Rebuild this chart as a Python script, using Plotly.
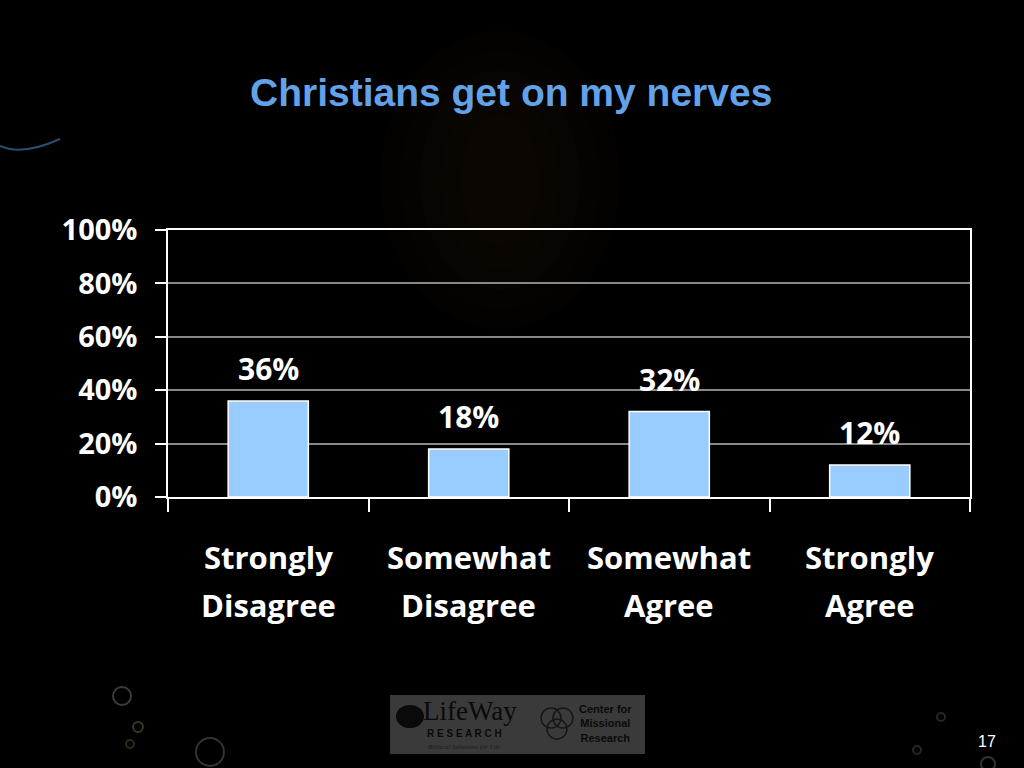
import plotly.graph_objects as go

# ---- data ----
categories = ["Strongly Disagree", "Somewhat Disagree", "Somewhat Agree", "Strongly Agree"]
values = [36, 18, 32, 12]
y_ticks = [0, 20, 40, 60, 80, 100]
y_tick_labels = [f"{v}%" for v in y_ticks]
title_text = "Christians get on my nerves"
page_number = "17"

# ---- layout geometry (pixels) ----
W, H = 1024, 768
L, R, T, B = 168, 970, 230, 497


def px(x):
    return (x - L) / (R - L)


def py(y):
    return (B - y) / (B - T)


FONT = "'Open Sans', Lato, sans-serif"

fig = go.Figure(
    go.Bar(
        x=categories,
        y=values,
        width=0.4,
        marker=dict(color="#99CCFF", line=dict(color="#FFFFFF", width=1.5)),
        hoverinfo="x+y",
    )
)

annotations = []
# data labels
for c, v in zip(categories, values):
    annotations.append(dict(
        x=c, y=v, xref="x", yref="y", text=f"{v}%", showarrow=False,
        yshift=32, yanchor="middle", xanchor="center",
        font=dict(family=FONT, size=30, color="white", weight="bold"),
    ))
# category labels (two lines each)
for c in categories:
    first, second = c.split(" ", 1)
    for line, shift in ((first, -60), (second, -108)):
        annotations.append(dict(
            x=c, y=0, xref="x", yref="paper", text=line, showarrow=False,
            yshift=shift, yanchor="middle", xanchor="center",
            font=dict(family=FONT, size=31, color="white", weight="bold"),
        ))


def paper_text(x, y, text, font):
    return dict(x=px(x), y=py(y), xref="paper", yref="paper", text=text, showarrow=False,
                xanchor="center", yanchor="middle", font=font)


# title
annotations.append(paper_text(511, 92, title_text,
                              dict(family="Liberation Sans, Arial, sans-serif", size=39,
                                   color="#62A2E8", weight="bold")))
# page number
annotations.append(paper_text(987, 741, page_number,
                              dict(family="Liberation Sans, Arial", size=16, color="white")))

# logo texts
logo_dark = "#0a0a0a"
annotations += [
    paper_text(470, 711, "LifeWay", dict(family="Liberation Serif, serif", size=27, color=logo_dark)),
    paper_text(464, 733, "R E S E A R C H",
               dict(family="Liberation Sans, Arial", size=10, color=logo_dark, weight="bold")),
    paper_text(464, 747, "<i>Biblical Solutions for Life</i>",
               dict(family="Liberation Serif, serif", size=7, color="#1a1a1a")),
    paper_text(605, 723, "Center for<br>Missional<br>Research",
               dict(family="Liberation Sans Narrow, Liberation Sans, Arial", size=11,
                    color=logo_dark, weight="bold")),
]

shapes = []
# very faint warm glow behind the title area
cx, cy = 500, 180
for rx, ry, a in [(120, 150, 0.025), (100, 130, 0.025), (80, 110, 0.025), (60, 90, 0.025), (40, 65, 0.025)]:
    shapes.append(dict(type="circle", xref="paper", yref="paper", layer="below",
                       x0=px(cx - rx), x1=px(cx + rx), y0=py(cy + ry), y1=py(cy - ry),
                       fillcolor=f"rgba(120,95,35,{a})", line=dict(width=0)))
# blue swoosh at the upper left
shapes.append(dict(type="path", xref="paper", yref="paper", layer="below",
                   path=f"M {px(0)},{py(146)} Q {px(22)},{py(156)} {px(60)},{py(139)}",
                   line=dict(color="#2a4f72", width=2)))
# decorative rings
for rcx, rcy, r, col in [(122, 696, 9, "#3c3c3c"), (138, 727, 5, "#3a3522"), (130, 744, 4, "#2e2a1c"),
                         (210, 752, 14, "#333333"), (941, 717, 4, "#262626"), (917, 750, 4, "#262626"),
                         (988, 764, 7, "#333333")]:
    shapes.append(dict(type="circle", xref="paper", yref="paper", layer="below",
                       x0=px(rcx - r), x1=px(rcx + r), y0=py(rcy + r), y1=py(rcy - r),
                       line=dict(color=col, width=2)))
# logo panel
shapes.append(dict(type="rect", xref="paper", yref="paper", layer="below",
                   x0=px(390), x1=px(645), y0=py(754), y1=py(695),
                   fillcolor="#3a3a3a", line=dict(width=0)))
# LifeWay icon
shapes.append(dict(type="circle", xref="paper", yref="paper", layer="below",
                   x0=px(396), x1=px(424), y0=py(728), y1=py(705),
                   fillcolor=logo_dark, line=dict(width=0)))
# missional venn circles
for vcx, vcy in [(551, 718), (563, 718), (557, 729)]:
    r = 10
    shapes.append(dict(type="circle", xref="paper", yref="paper", layer="below",
                       x0=px(vcx - r), x1=px(vcx + r), y0=py(vcy + r), y1=py(vcy - r),
                       line=dict(color="#161616", width=1.5)))

fig.update_layout(
    width=W, height=H, autosize=False,
    margin=dict(l=L, r=W - R, t=T, b=H - B, pad=0),
    paper_bgcolor="#000000", plot_bgcolor="rgba(0,0,0,0)",
    showlegend=False,
    annotations=annotations,
    shapes=shapes,
    bargap=0.6,
)
fig.update_xaxes(
    type="category", range=[-0.5, 3.5],
    showline=True, linecolor="#FFFFFF", linewidth=1.5, mirror=True,
    ticks="outside", tickson="boundaries", ticklen=13, tickcolor="#FFFFFF", tickwidth=1.5,
    showticklabels=False, showgrid=False, zeroline=False,
)
fig.update_yaxes(
    range=[0, 100], tickvals=y_ticks, ticktext=y_tick_labels,
    showline=True, linecolor="#FFFFFF", linewidth=1.5, mirror=True,
    ticks="outside", ticklen=11, tickcolor="#FFFFFF", tickwidth=1.5,
    ticklabelstandoff=12,
    tickfont=dict(family=FONT, size=29, color="white", weight="bold"),
    showgrid=True, gridcolor="#888888", gridwidth=1.5, zeroline=False,
)

fig.write_html(
    "out.html",
    config={"displayModeBar": False},
    post_script="document.body.style.margin='0';document.body.style.padding='0';"
                "document.body.style.background='#000';document.body.style.overflow='hidden';",
)
